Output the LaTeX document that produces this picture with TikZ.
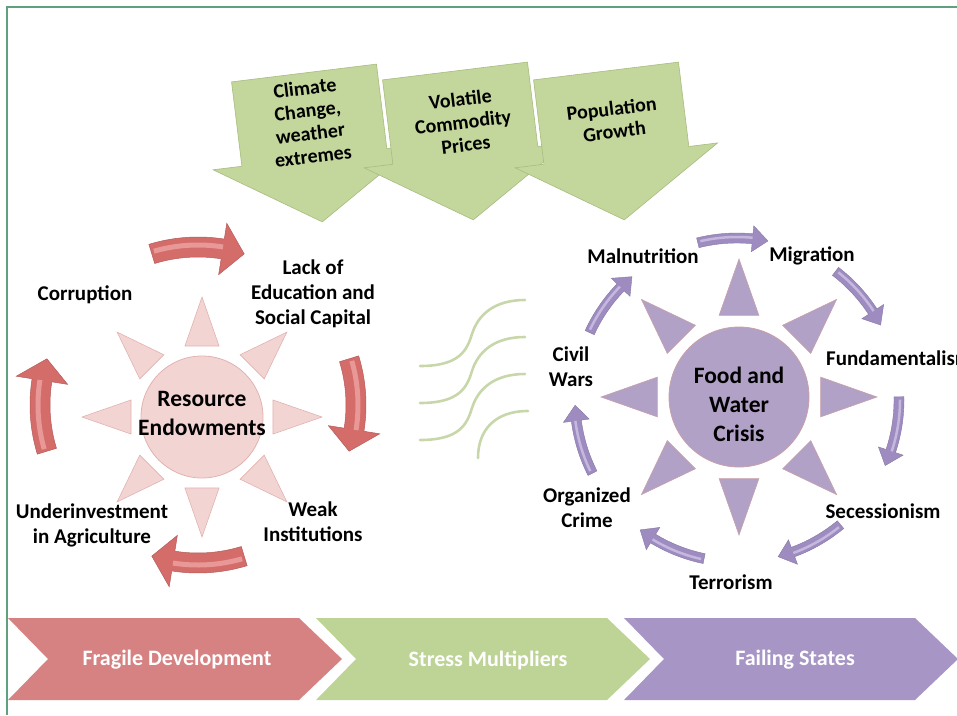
\documentclass[tikz,border=0pt]{standalone}
\usepackage{fontspec}
\setmainfont{Carlito}
\definecolor{frame}{RGB}{95,160,125}
\definecolor{pinkfill}{RGB}{242,213,211}
\definecolor{pinkline}{RGB}{226,178,176}
\definecolor{redarrow}{RGB}{212,108,106}
\definecolor{redlight}{RGB}{232,152,150}
\definecolor{lilac}{RGB}{178,161,199}
\definecolor{lilacline}{RGB}{200,160,168}
\definecolor{purplearrow}{RGB}{158,140,192}
\definecolor{purplelight}{RGB}{196,184,222}
\definecolor{olive}{RGB}{195,214,155}
\definecolor{oliveline}{RGB}{168,188,128}
\definecolor{wave}{RGB}{200,215,170}
\definecolor{chevred}{RGB}{215,130,130}
\definecolor{chevgreen}{RGB}{190,212,150}
\definecolor{chevpurple}{RGB}{167,150,197}

\begin{document}
\begin{tikzpicture}[x=1pt,y=-1pt,
  lbl/.style={align=center,inner sep=0pt,font=\fontsize{21}{25}\selectfont\bfseries},
  hub/.style={align=center,inner sep=0pt,font=\fontsize{23.5}{29}\selectfont\bfseries},
  drop/.style={align=center,inner sep=0pt,rotate=7,font=\fontsize{20}{23}\selectfont\bfseries},
  band/.style={inner sep=0pt,text=white,font=\fontsize{22}{26}\selectfont\bfseries},
  wavy/.style={wave,line width=2.6pt,line cap=round}]
\useasboundingbox (0,0) rectangle (957,715);
\clip (0,0) rectangle (957,715);

%% frame
\draw[frame,line width=2pt] (7,715) -- (7,7) -- (957,7);

%% stress multipliers on top
\foreach \cx/\cy in {304/73, 455/71, 606/71}{
\begin{scope}[shift={(\cx,\cy)},rotate=7]
\filldraw[fill=olive,draw=oliveline,line width=0.6pt] (-73,0) -- (73,0) -- (73,85) -- (102,85) -- (0,150) -- (-102,85) -- (-73,85) -- cycle;
\end{scope}
}
\node[drop] (clim) at (309,122) {Climate\\Change,\\weather\\extremes};
\node[drop] (vola) at (463,122) {Volatile\\Commodity\\Prices};
\node[drop] (popu) at (613,120) {Population\\Growth};

%% left cycle
\begin{scope}[shift={(202,417)}]
\foreach \t in {0,45,...,315}
  \filldraw[fill=pinkfill,draw=pinkline,line width=0.6pt] (\t-13.5:73) -- (\t:120) -- (\t+13.5:73) -- cycle;
\filldraw[fill=pinkfill,draw=pinkline,line width=0.8pt] (0,0) circle (61);
\end{scope}
\node[hub] (res) at (202,413) {Resource\\Endowments};

\begin{scope}[shift={(198,405)}]
\foreach \k in {0,...,3}{
  \pgfmathsetmacro\a{-107+90*\k}
  \pgfmathsetmacro\b{\a+34}
  \pgfmathsetmacro\m{\b-8}
  \filldraw[fill=redarrow,draw=redarrow!85!black,line width=0.5pt] (\a:168) arc[start angle=\a,end angle=\m,radius=168] -- (\m:184) -- (\b:158) -- (\m:132) -- (\m:148) arc[start angle=\m,end angle=\a,radius=148] -- cycle;
  \draw[redlight,line width=5pt] (\a+1:160) arc[start angle=\a+1,end angle=\m,radius=160];
}
\end{scope}

\node[lbl] (corr) at (85,295) {Corruption};
\node[lbl] (lack) at (313,294) {Lack of\\Education and\\Social Capital};
\node[lbl] (weak) at (313,522) {Weak\\Institutions};
\node[lbl] (under) at (92,525) {Underinvestment\\in Agriculture};

%% waves
\foreach \dy in {0,37,74}
  \draw[wavy] (420,366+\dy) .. controls (460,366+\dy) and (467,350+\dy) .. (472,334+\dy) .. controls (478,315+\dy) and (494,300+\dy) .. (525,300+\dy);
\draw[wavy] (478,458) .. controls (478,430) and (495,411) .. (528,411);

%% right cycle
\begin{scope}[shift={(739,397)}]
\foreach \t in {0,45,...,315}
  \filldraw[fill=lilac,draw=lilacline,line width=0.6pt] (\t-13.7:84) -- (\t:138) -- (\t+13.7:84) -- cycle;
\filldraw[fill=lilac,draw=lilacline,line width=0.8pt] (0,0) circle (70);
\end{scope}
\node[hub] (food) at (739,404) {Food and\\Water\\Crisis};

\begin{scope}[shift={(737,400)}]
\foreach \k in {0,...,6}{
  \pgfmathsetmacro\a{-104+51.43*\k}
  \pgfmathsetmacro\b{\a+25}
  \pgfmathsetmacro\m{\b-5.5}
  \filldraw[fill=purplearrow,draw=purplearrow!85!black,line width=0.4pt] (\a:167) arc[start angle=\a,end angle=\m,radius=167] -- (\m:175) -- (\b:162) -- (\m:149) -- (\m:157) arc[start angle=\m,end angle=\a,radius=157] -- cycle;
  \draw[purplelight,line width=2.5pt] (\a+1:163) arc[start angle=\a+1,end angle=\m,radius=163];
}
\end{scope}

\node[lbl] (maln) at (643,256) {Malnutrition};
\node[lbl] (migr) at (812,256) {Migration};
\node[lbl,anchor=west] (fund) at (826,358) {Fundamentalism};
\node[lbl] (sece) at (883,511) {Secessionism};
\node[lbl] (terr) at (731,582) {Terrorism};
\node[lbl] (orga) at (587,508) {Organized\\Crime};
\node[lbl] (civil) at (571,367) {Civil\\Wars};

%% bottom band
\foreach \x/\c in {8/chevred, 316/chevgreen, 624/chevpurple}
  \fill[\c] (\x,618) -- ++(291,0) -- ++(43,41) -- ++(-43,41) -- ++(-291,0) -- ++(40,-41) -- cycle;
\node[band] (frag) at (177,660) {Fragile Development};
\node[band] (stress) at (488,660) {Stress Multipliers};
\node[band] (fail) at (795,660) {Failing States};
\end{tikzpicture}
\end{document}
